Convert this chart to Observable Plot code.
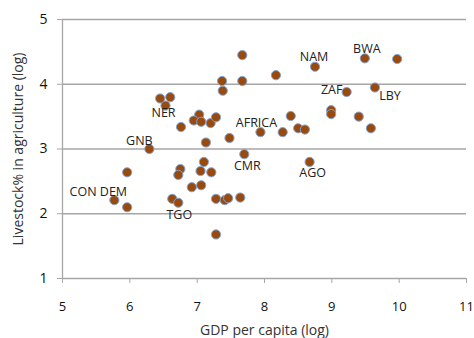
<!DOCTYPE html>
<html>
<head>
<meta charset="utf-8">
<script src="https://cdn.jsdelivr.net/npm/d3@7"></script>
<script src="https://cdn.jsdelivr.net/npm/@observablehq/plot@0.6"></script>
<style>
  html, body { margin: 0; padding: 0; background: #fff; }
  #chart { width: 474px; height: 338px; }
</style>
</head>
<body>
<div id="chart"></div>
<script>
// GDP per capita (log)
const gdp = [5.77, 5.96, 5.96, 6.29, 6.45, 6.60, 6.53, 6.76, 6.75, 6.72,
             6.63, 6.72, 6.92, 7.06, 7.05, 7.10, 7.21, 7.28, 7.41, 7.46,
             7.64, 7.28, 7.13, 7.48, 7.70, 7.67, 7.37, 7.67, 8.17, 7.38,
             7.03, 6.95, 7.06, 7.20, 7.28, 7.94, 8.27, 8.39, 8.50, 8.60,
             8.99, 8.99, 9.40, 9.58, 8.75, 9.49, 9.97, 9.22, 9.64, 8.67];
// Livestock % in agriculture (log)
const livestock = [2.21, 2.10, 2.64, 3.00, 3.78, 3.80, 3.67, 3.34, 2.69, 2.60,
                   2.23, 2.17, 2.41, 2.44, 2.66, 2.80, 2.64, 2.23, 2.21, 2.24,
                   2.25, 1.68, 3.10, 3.17, 2.92, 4.45, 4.05, 4.05, 4.14, 3.90,
                   3.53, 3.44, 3.42, 3.40, 3.49, 3.26, 3.26, 3.51, 3.32, 3.30,
                   3.60, 3.54, 3.50, 3.32, 4.27, 4.40, 4.39, 3.88, 3.95, 2.80];
const labels = ["CON DEM", "", "", "GNB", "", "", "NER", "", "", "",
                "", "TGO", "", "", "", "", "", "", "", "",
                "", "", "", "", "CMR", "", "", "", "", "",
                "", "", "", "", "", "AFRICA", "", "", "", "",
                "", "", "", "", "NAM", "BWA", "", "ZAF", "LBY", "AGO"];
const xTicks = [5, 6, 7, 8, 9, 10, 11];
const yTicks = [1, 2, 3, 4, 5];
const gridValues = [2, 3, 4, 5];

// label placement (styling, kept separate from the data)
const labelOffset = {
  "CON DEM": [-16, -8], "GNB": [-10, -8], "NER": [-2, 7], "TGO": [1, 12],
  "CMR": [3, 12], "AFRICA": [-4, -9], "NAM": [-1, -10], "BWA": [2, -9],
  "ZAF": [-15, -2], "LBY": [15, 9], "AGO": [3, 11]
};

const data = gdp.map((g, i) => ({gdp: g, live: livestock[i], label: labels[i]}));
const font = "'Open Sans', 'Liberation Sans', sans-serif";

const labelMarks = Object.keys(labelOffset).map(name =>
  Plot.text(data.filter(d => d.label === name), {
    x: "gdp", y: "live", text: "label",
    dx: labelOffset[name][0], dy: labelOffset[name][1],
    fontSize: 12.5, fill: "#222"
  })
);

const chart = Plot.plot({
  width: 474,
  height: 338,
  marginLeft: 62,
  marginRight: 8,
  marginTop: 19,
  marginBottom: 60,
  style: {fontFamily: font, background: "#fff"},
  x: {domain: [5, 11]},
  y: {domain: [1, 5]},
  marks: [
    Plot.ruleY(gridValues, {stroke: "#a6a6a6", strokeWidth: 1.3}),
    Plot.ruleY([1], {stroke: "#a6a6a6", strokeWidth: 1.3}),
    Plot.ruleX([5], {stroke: "#a6a6a6", strokeWidth: 1.3}),
    Plot.axisX(xTicks, {anchor: "bottom", tickSize: 5, tickPadding: 18, stroke: "#a6a6a6",
      fontSize: 13, color: "#111", label: null, tickFormat: "d"}),
    Plot.axisY(yTicks, {anchor: "left", tickSize: 5, tickPadding: 10, stroke: "#a6a6a6",
      fontSize: 14, color: "#111", label: null, tickFormat: "d"}),
    Plot.text(["GDP per capita (log)"], {frameAnchor: "bottom", dy: 56, fontSize: 14, fill: "#333"}),
    Plot.text(["Livestock% in agriculture (log)"], {frameAnchor: "left", textAnchor: "middle", dx: -44, rotate: -90, fontSize: 14, fill: "#333"}),
    Plot.dot(data, {x: "gdp", y: "live", r: 4.6, fill: "#9a4a0d", stroke: "#7fa5d6", strokeWidth: 1}),
    ...labelMarks
  ]
});
document.getElementById("chart").appendChild(chart);
</script>
</body>
</html>
